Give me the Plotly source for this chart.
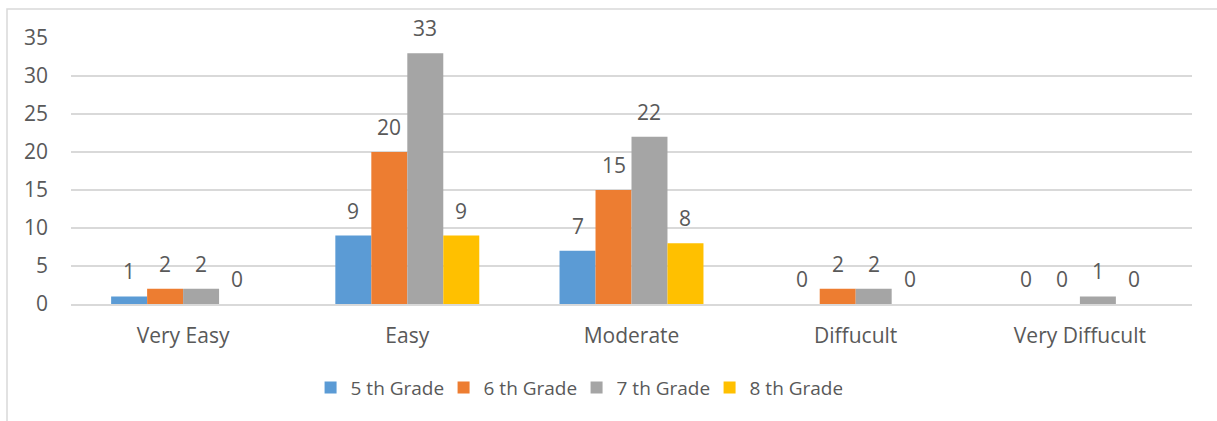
import plotly.graph_objects as go

categories = ["Very Easy", "Easy", "Moderate", "Diffucult", "Very Diffucult"]
series_names = ["5 th Grade", "6 th Grade", "7 th Grade", "8 th Grade"]
grade5 = [1, 9, 7, 0, 0]
grade6 = [2, 20, 15, 2, 0]
grade7 = [2, 33, 22, 2, 1]
grade8 = [0, 9, 8, 0, 0]
colors = ["#5B9BD5", "#ED7D31", "#A5A5A5", "#FFC000"]
y_ticks = [0, 5, 10, 15, 20, 25, 30, 35]

series = [grade5, grade6, grade7, grade8]
TXT = "#595959"
FONT = "Open Sans"
FS = 21

W, H = 1217, 421
ml, mr, mt, mb = 71, 25, 38, 117
plot_w = W - ml - mr
plot_h = H - mt - mb
bargap = 0.358
cat_w = plot_w / len(categories)
bar_w = cat_w * (1 - bargap) / len(series)

fig = go.Figure()
for name, vals, col in zip(series_names, series, colors):
    fig.add_trace(go.Bar(x=categories, y=vals, name=name, marker_color=col,
                         marker_line_width=0))

annotations = []
for i, vals in enumerate(series):
    off = (i - (len(series) - 1) / 2) * bar_w
    for c, v in zip(categories, vals):
        annotations.append(dict(x=c, y=v, xref="x", yref="y", text=str(v),
                                showarrow=False, xshift=off, yshift=9,
                                yanchor="bottom",
                                font=dict(family=FONT, size=FS, color=TXT)))

# outer chart border (light gray frame)
x0 = (7 - ml) / plot_w
x1 = (W + 5 - ml) / plot_w
y1 = (H - mb - 9) / plot_h
y0 = (H - mb - (H + 5)) / plot_h
fig.add_shape(type="rect", xref="paper", yref="paper", x0=x0, x1=x1, y0=y0, y1=y1,
              line=dict(color="#D9D9D9", width=1.5), fillcolor="rgba(0,0,0,0)",
              layer="below")

fig.update_layout(
    width=W, height=H,
    margin=dict(l=ml, r=mr, t=mt, b=mb),
    paper_bgcolor="white", plot_bgcolor="white",
    barmode="group", bargap=bargap, bargroupgap=0,
    font=dict(family=FONT, size=FS, color=TXT),
    annotations=annotations,
    showlegend=True,
    legend=dict(orientation="h", x=0.451, xanchor="center", y=-0.243, yanchor="top",
                font=dict(family=FONT, size=19, color=TXT),
                entrywidth=88, itemwidth=30, traceorder="normal"),
    xaxis=dict(showgrid=False, showline=True, linecolor="#D9D9D9", linewidth=1.5,
               ticks="", ticklabelstandoff=12, tickfont=dict(size=FS, color=TXT)),
    yaxis=dict(range=[0, 35], tickvals=y_ticks, showgrid=True, gridcolor="#D9D9D9",
               gridwidth=1.5, zeroline=False, showline=False, ticks="",
               ticklabelstandoff=22, tickfont=dict(size=FS, color=TXT)),
)

fig.write_html("out.html")
